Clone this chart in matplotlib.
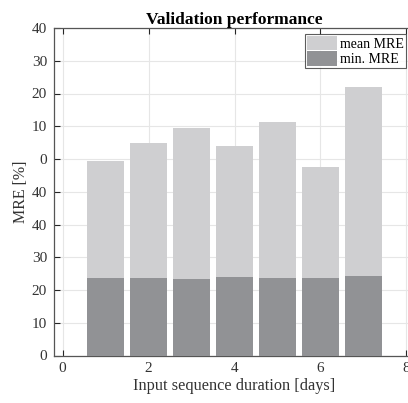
import numpy as np
import matplotlib.pyplot as plt

plt.rcParams['font.family'] = ['Liberation Serif', 'DejaVu Serif']

# Data
durations = [1, 2, 3, 4, 5, 6, 7]
mean_mre = [59.4, 65.0, 69.5, 64.1, 71.3, 57.6, 82.1]
min_mre = [23.6, 23.8, 23.5, 23.9, 23.7, 23.6, 24.4]
ytick_vals = [0, 10, 20, 30, 40, 50, 60, 70, 80, 90, 100]
ytick_labels = ['0', '10', '20', '30', '40', '40', '0', '10', '20', '30', '40']
xtick_vals = [0, 2, 4, 6, 8]

light = '#cfcfd1'
dark = '#919295'
axcol = '#262626'

fig = plt.figure(figsize=(4.08, 4.03), dpi=100)
ax = fig.add_axes([54 / 408, 47.5 / 403, 361 / 408, 327.5 / 403])

ax.bar(durations, mean_mre, width=0.85, color=light, label='mean MRE', zorder=2)
ax.bar(durations, min_mre, width=0.85, color=dark, label='min. MRE', zorder=3)

ax.set_xlim(-0.2, 8.2)
ax.set_ylim(0, 100)
ax.set_xticks(xtick_vals)
ax.set_yticks(ytick_vals)
ax.set_yticklabels(ytick_labels)

ax.grid(True, color='#e6e6e6', linewidth=0.8, zorder=0)
ax.set_axisbelow(True)
ax.tick_params(direction='in', top=True, right=True, length=4, width=0.8,
               colors=axcol, labelcolor='#333333', labelsize=11, pad=5)
for s in ax.spines.values():
    s.set_color('#555555')
    s.set_linewidth(0.9)

ax.set_xlabel('Input sequence duration [days]', fontsize=11.7, color='#333333', labelpad=2)
ax.set_ylabel('MRE [%]', fontsize=11.5, color='#333333', labelpad=2)
ax.set_title('Validation performance', fontsize=12.5, fontweight='bold', pad=3)

leg = ax.legend(loc='upper right', fontsize=10, frameon=True, fancybox=False,
                borderpad=0.15, handlelength=2.2, handleheight=1.2,
                handletextpad=0.2, labelspacing=0.05, borderaxespad=0.0,
                bbox_to_anchor=(0.975, 0.982))
leg.get_frame().set_edgecolor('#333333')
leg.get_frame().set_linewidth(0.8)

fig.savefig('out.png', dpi=100)
